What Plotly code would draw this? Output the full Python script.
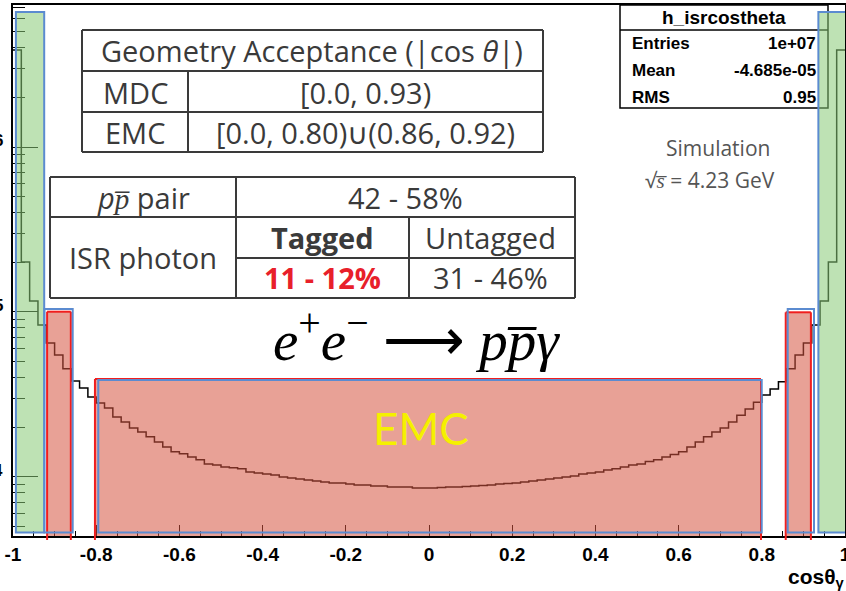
import math
import plotly.graph_objects as go

# ---------------- data ----------------
x_min, x_max, n_bins = -1.0, 1.0, 100
counts = [
    3870000, 201000, 116600, 83400, 64900, 54800, 45200, 38200, 34600, 30500,
    28100, 26200, 23100, 21500, 19800, 18700, 17500, 16300, 15200, 14200,
    13800, 13200, 12700, 12000, 11800, 11500, 11350, 11200, 10700, 10570,
    10430, 10280, 10000, 9860, 9720, 9590, 9460, 9330, 9200, 9200,
    9070, 8950, 8950, 8820, 8820, 8700, 8700, 8700, 8580, 8580,
    8580, 8640, 8700, 8700, 8760, 8820, 8880, 8950, 9070, 9140,
    9200, 9330, 9460, 9590, 9720, 9860, 10000, 10140, 10430, 10570,
    10700, 11000, 11200, 11500, 11800, 12000, 12400, 12700, 13200, 13700,
    14200, 15200, 16300, 17500, 18700, 19800, 21500, 23700, 25800, 28400,
    31400, 34100, 37700, 45200, 54800, 64900, 83400, 116600, 201000, 3870000,
]
x_tickvals = [-1, -0.8, -0.6, -0.4, -0.2, 0, 0.2, 0.4, 0.6, 0.8, 1]
x_ticktext = ["-1", "-0.8", "-0.6", "-0.4", "-0.2", "0", "0.2", "0.4", "0.6", "0.8", "1"]
y_decades = [1e4, 1e5, 1e6]
y_decade_labels = ["4", "5", "6"]
y_minor = [m * 10 ** e for e in (3, 4, 5, 6) for m in range(2, 10)]

# acceptance (|cos theta|)
mdc_max = 0.93
emc_barrel = 0.80
emc_endcap = (0.86, 0.92)

stats = [("Entries", "1e+07"), ("Mean", "-4.685e-05"), ("RMS", "0.95")]

# ---------------- figure ----------------
W, H = 846, 591
L, R, T, B = 13, 1, 5, 55
pw, ph = W - L - R, H - T - B


def px(x):
    return (x - L) / pw


def py(y):
    return (T + ph - y) / ph


width = (x_max - x_min) / n_bins
edges = [x_min + i * width for i in range(n_bins + 1)]
xs = edges[:-1] + [edges[-1]]
ys = counts + [counts[-1]]

fig = go.Figure()
fig.add_trace(go.Scatter(x=xs, y=ys, mode="lines", line=dict(color="black", width=1.5, shape="hv"),
                         hoverinfo="skip", showlegend=False))

shapes = []
# stats box
shapes.append(dict(type="rect", xref="paper", yref="paper", x0=px(620), x1=px(828), y0=py(108), y1=py(5),
                   line=dict(color="black", width=1.5), fillcolor="white", layer="above"))
shapes.append(dict(type="line", xref="paper", yref="paper", x0=px(620), x1=px(828), y0=py(30), y1=py(30),
                   line=dict(color="black", width=1.5), layer="above"))

green_fill = "rgba(137,202,119,0.55)"
red_fill = "rgba(213,84,63,0.55)"
blue = "rgb(91,139,208)"
red = "rgb(240,30,30)"

# green regions: outside MDC acceptance
for a, b in ((-0.993, -mdc_max + 0.005), (mdc_max + 0.006, 1.003)):
    shapes.append(dict(type="rect", xref="x", yref="paper", x0=a, x1=b, y0=py(532.5), y1=py(12),
                       fillcolor=green_fill, line=dict(color=blue, width=2), layer="above"))

# red regions: EMC acceptance
red_regions = [(-emc_endcap[1] + 0.002, -emc_endcap[0] - 0.001, 311.7, (-emc_endcap[1] - 0.0045, -emc_endcap[0] + 0.0035), 309),
               (-emc_barrel - 0.003, emc_barrel - 0.002, 379, (-emc_barrel + 0.005, emc_barrel - 0.0002), 380),
               (emc_endcap[0] - 0.0025, emc_endcap[1] - 0.002, 312.3, (emc_endcap[0] + 0.0023, emc_endcap[1] + 0.0055), 309)]
for a, b, top, (ba, bb), btop in red_regions:
    shapes.append(dict(type="rect", xref="x", yref="paper", x0=a, x1=b, y0=py(536), y1=py(top),
                       fillcolor=red_fill, line=dict(width=0), layer="above"))
    for xv in (a, b):
        shapes.append(dict(type="line", xref="x", yref="paper", x0=xv, x1=xv, y0=py(540), y1=py(top),
                           line=dict(color=red, width=2), layer="above"))
    shapes.append(dict(type="line", xref="x", yref="paper", x0=a, x1=b, y0=py(top), y1=py(top),
                       line=dict(color=red, width=2), layer="above"))
    shapes.append(dict(type="rect", xref="x", yref="paper", x0=ba, x1=bb, y0=py(532.5), y1=py(btop),
                       line=dict(color=blue, width=2), layer="above"))

# tables
tcol = "#3a3a3a"


def hline(x0, x1, y):
    shapes.append(dict(type="line", xref="paper", yref="paper", x0=px(x0), x1=px(x1), y0=py(y), y1=py(y),
                       line=dict(color=tcol, width=2), layer="above"))


def vline(x, y0, y1):
    shapes.append(dict(type="line", xref="paper", yref="paper", x0=px(x), x1=px(x), y0=py(y0), y1=py(y1),
                       line=dict(color=tcol, width=2), layer="above"))


for y in (30, 71, 112, 152):
    hline(82, 543, y)
vline(82, 30, 152); vline(543, 30, 152); vline(188, 71, 152)
for y in (177, 217, 298):
    hline(50, 575, y)
hline(236, 575, 258)
vline(50, 177, 298); vline(575, 177, 298); vline(236, 177, 298); vline(409, 217, 298)

ann = []


def text(x, y, s, size, color=tcol, family="Open Sans", xanchor="center", **kw):
    ann.append(dict(x=px(x), y=py(y), xref="paper", yref="paper", text=s, showarrow=False,
                    xanchor=xanchor, yanchor="middle", font=dict(size=size, color=color, family=family), **kw))


tf = 29
text(312, 50, "Geometry Acceptance (|cos <i>θ</i>|)", tf)
text(135, 92, "MDC", tf)
text(365, 92, "[0.0, 0.93)", tf)
text(135, 132, "EMC", tf)
text(365, 132, "[0.0, 0.80)∪(0.86, 0.92)", tf)
text(143, 197, "<i>pp̅</i> pair", tf)
text(405, 197, "42 - 58%", tf)
text(143, 257, "ISR photon", tf)
text(322, 237, "<b>Tagged</b>", tf)
text(491, 237, "Untagged", tf)
text(322, 277, "<b>11 - 12%</b>", tf, color="#e8202a")
text(491, 277, "31 - 46%", tf)

text(416, 336, "<i>e</i><sup>+</sup><i>e</i><sup>−</sup> ⟶ <i>pp̅γ</i>", 57, color="black", family="Liberation Serif")
text(421, 428, "EMC", 44, color="#f5f000", family="Lato")
text(718, 148, "Simulation", 21, color="#555555")
text(710, 180, "√<i>s̅</i> = 4.23 GeV", 21, color="#555555")

# stats box text
sf = "Liberation Sans"
text(724, 17, "<b>h_isrcostheta</b>", 19, color="black", family=sf)
for i, (k, v) in enumerate(stats):
    yy = 44 + i * 26.5
    text(630, yy, "<b>%s</b>" % k, 17, color="black", family=sf, xanchor="left")
    text(818, yy, "<b>%s</b>" % v, 17, color="black", family=sf, xanchor="right")

# y decade labels (cut by the picture edge)
for v, lab in zip(y_decades, y_decade_labels):
    yp = 312 - (math.log10(v) - 5) * 165 - 7
    text(5, yp, "<b>%s</b>" % lab, 17, color="black", family=sf, xanchor="right")

# x axis title
text(847, 578, "<b>cosθ<sub>γ</sub></b>", 21, color="black", family=sf, xanchor="right")

fig.update_layout(
    width=W, height=H, margin=dict(l=L, r=R, t=T, b=B, pad=0, autoexpand=False),
    paper_bgcolor="white", plot_bgcolor="white",
    shapes=shapes, annotations=ann, showlegend=False,
    xaxis=dict(range=[x_min, x_max], showgrid=False, zeroline=False, showline=True, mirror=True,
               automargin=False, ticklabeloverflow="allow",
               linecolor="black", linewidth=2, ticks="inside", ticklen=11, tickwidth=1.2, tickcolor="black",
               tickvals=x_tickvals, ticktext=x_ticktext,
               tickfont=dict(family=sf, size=19, color="black", weight="bold"),
               minor=dict(ticks="inside", ticklen=5, tickwidth=1, tickcolor="black", dtick=0.05)),
    yaxis=dict(type="log", range=[3.642, 6.861], showgrid=False, zeroline=False, showline=True, mirror=True,
               automargin=False,
               linecolor="black", linewidth=2, ticks="inside", ticklen=25, tickwidth=1.2, tickcolor="black",
               tickvals=y_decades, showticklabels=False,
               minor=dict(ticks="inside", ticklen=12, tickwidth=1, tickcolor="black", tickvals=y_minor)),
)

fig.write_html("out.html", config={"displayModeBar": False},
               post_script="document.body.style.margin='0';document.body.style.overflow='hidden';")
